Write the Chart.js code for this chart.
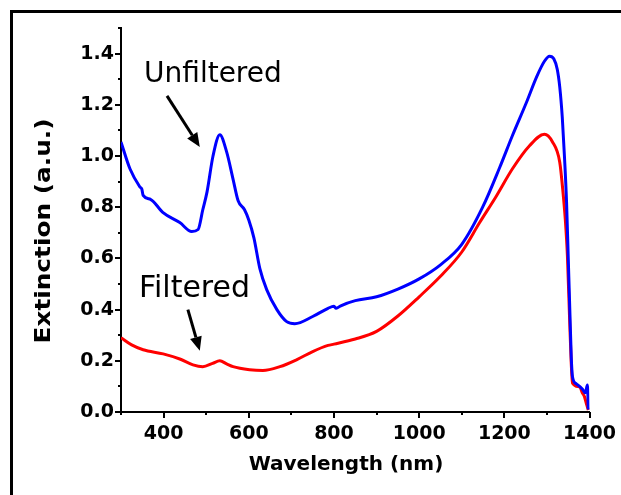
<!DOCTYPE html>
<html>
<head>
<meta charset="utf-8">
<script src="https://cdn.jsdelivr.net/npm/chart.js@4.4.1/dist/chart.umd.min.js"></script>
<style>
  html, body { margin: 0; padding: 0; background: #fff; overflow: hidden; }
  #marco { position: absolute; left: 10px; top: 10px; width: 700px; height: 600px; border: 3px solid #000; }
  #grafica { position: absolute; left: 0; top: 0; }
</style>
</head>
<body>
<div id="marco"></div>
<canvas id="grafica" width="621" height="495"></canvas>
<script>
// datos
const lambdaSinFiltrar = [300, 321, 344, 349, 352, 370, 398, 438, 466, 481, 492, 502, 516, 532, 548, 563, 575, 590, 600, 612, 626, 642, 666, 689, 708, 750, 786, 800, 805, 816, 850, 900, 950, 1000, 1050, 1100, 1149, 1189, 1219, 1252, 1276, 1294, 1306, 1316, 1324, 1330, 1336, 1341, 1346, 1350, 1354, 1357, 1360, 1369, 1383, 1390, 1395, 1397];
const extSinFiltrar = [1.055, 0.95, 0.88, 0.87, 0.846, 0.83, 0.78, 0.74, 0.705, 0.713, 0.79, 0.86, 1.0, 1.083, 1.016, 0.91, 0.825, 0.79, 0.75, 0.68, 0.56, 0.478, 0.40, 0.353, 0.345, 0.373, 0.405, 0.413, 0.405, 0.415, 0.435, 0.45, 0.48, 0.52, 0.575, 0.655, 0.80, 0.955, 1.08, 1.21, 1.31, 1.37, 1.39, 1.38, 1.34, 1.27, 1.15, 1.0, 0.82, 0.6, 0.38, 0.216, 0.137, 0.11, 0.09, 0.075, 0.105, 0.01];

const lambdaFiltrado = [300, 325, 352, 399, 438, 469, 492, 515, 532, 548, 563, 602, 633, 673, 712, 750, 786, 800, 850, 900, 950, 1000, 1050, 1100, 1142, 1181, 1219, 1259, 1294, 1313, 1330, 1337, 1343, 1348, 1353, 1357, 1360, 1377, 1383, 1388, 1393, 1397];
const extFiltrado = [0.29, 0.262, 0.243, 0.227, 0.207, 0.184, 0.177, 0.19, 0.2, 0.188, 0.177, 0.165, 0.162, 0.177, 0.204, 0.236, 0.26, 0.265, 0.285, 0.315, 0.375, 0.45, 0.53, 0.625, 0.74, 0.843, 0.95, 1.04, 1.085, 1.055, 0.976, 0.87, 0.753, 0.61, 0.37, 0.19, 0.113, 0.098, 0.075, 0.06, 0.03, 0.008];

const ticksX = [400, 600, 800, 1000, 1200, 1400];
const ticksY = [0.0, 0.2, 0.4, 0.6, 0.8, 1.0, 1.2, 1.4];

const tituloX = "Wavelength (nm)";
const tituloY = "Extinction (a.u.)";

// anotaciones (en unidades de datos)
const notas = [
  { texto: "Unfiltered", x: 354, y: 1.29, desde: [408, 1.235], hasta: [485, 1.035], tam: 28 },
  { texto: "Filtered", x: 342, y: 0.451, desde: [457, 0.40], hasta: [485, 0.239], tam: 30 }
];

const esMayorY = v => ticksY.some(t => Math.abs(t - v) < 1e-6);
const esMayorX = v => ticksX.includes(Math.round(v));

// ticks mayores/menores, titulos y flechas
const extras = {
  id: "extras",
  afterDraw(chart) {
    const { ctx, chartArea, scales } = chart;
    const sx = scales.x, sy = scales.y;
    ctx.save();
    ctx.strokeStyle = "#000";
    ctx.lineWidth = 2;
    sy.ticks.forEach(t => {
      const py = Math.round(sy.getPixelForValue(t.value));
      const largo = esMayorY(t.value) ? 6 : 3;
      ctx.beginPath();
      ctx.moveTo(chartArea.left, py);
      ctx.lineTo(chartArea.left - largo, py);
      ctx.stroke();
    });
    sx.ticks.forEach(t => {
      const px = Math.round(sx.getPixelForValue(t.value));
      const largo = esMayorX(t.value) ? 6 : 3;
      ctx.beginPath();
      ctx.moveTo(px, chartArea.bottom);
      ctx.lineTo(px, chartArea.bottom + largo);
      ctx.stroke();
    });

    // titulos de ejes
    ctx.fillStyle = "#000";
    ctx.font = "bold 20px 'DejaVu Sans'";
    ctx.textAlign = "center";
    ctx.textBaseline = "middle";
    ctx.fillText(tituloX, 346, 465);
    ctx.save();
    ctx.font = "bold 21px 'DejaVu Sans'";
    ctx.translate(45, 231);
    ctx.rotate(-Math.PI / 2);
    ctx.scale(1.18, 1);
    ctx.fillText(tituloY, 0, 0);
    ctx.restore();

    // anotaciones con flecha
    notas.forEach(n => {
      ctx.font = n.tam + "px 'DejaVu Sans'";
      ctx.textAlign = "left";
      ctx.textBaseline = "alphabetic";
      ctx.fillText(n.texto, sx.getPixelForValue(n.x), sy.getPixelForValue(n.y));
      const x0 = sx.getPixelForValue(n.desde[0]), y0 = sy.getPixelForValue(n.desde[1]);
      const x1 = sx.getPixelForValue(n.hasta[0]), y1 = sy.getPixelForValue(n.hasta[1]);
      const ang = Math.atan2(y1 - y0, x1 - x0);
      const punta = 14, ancho = 6;
      const bx = x1 - punta * Math.cos(ang), by = y1 - punta * Math.sin(ang);
      ctx.lineWidth = 3;
      ctx.beginPath();
      ctx.moveTo(x0, y0);
      ctx.lineTo(bx, by);
      ctx.stroke();
      ctx.beginPath();
      ctx.moveTo(x1, y1);
      ctx.lineTo(bx + ancho * Math.sin(ang), by - ancho * Math.cos(ang));
      ctx.lineTo(bx - ancho * Math.sin(ang), by + ancho * Math.cos(ang));
      ctx.closePath();
      ctx.fill();
    });
    ctx.restore();
  }
};

const fuenteTicks = { family: "'DejaVu Sans'", size: 19, weight: "bold" };

new Chart(document.getElementById("grafica").getContext("2d"), {
  type: "line",
  data: {
    datasets: [
      {
        label: "Unfiltered",
        data: lambdaSinFiltrar.map((l, i) => ({ x: l, y: extSinFiltrar[i] })),
        borderColor: "#0000ff",
        borderWidth: 3,
        pointRadius: 0,
        cubicInterpolationMode: "monotone"
      },
      {
        label: "Filtered",
        data: lambdaFiltrado.map((l, i) => ({ x: l, y: extFiltrado[i] })),
        borderColor: "#ff0000",
        borderWidth: 3,
        pointRadius: 0,
        cubicInterpolationMode: "monotone"
      }
    ]
  },
  options: {
    responsive: false,
    animation: false,
    devicePixelRatio: 1,
    layout: { padding: { top: 28, right: 31, bottom: 0, left: 0 } },
    plugins: { legend: { display: false }, tooltip: { enabled: false } },
    scales: {
      x: {
        type: "linear",
        min: 300,
        max: 1400,
        grid: { display: false, drawTicks: true, tickLength: 6 },
        border: { display: true, color: "#000", width: 2 },
        ticks: {
          stepSize: 100,
          autoSkip: false,
          maxRotation: 0,
          padding: 5,
          color: "#000",
          font: fuenteTicks,
          callback: v => (esMayorX(v) ? String(v) : "")
        },
        afterFit: s => { s.height = 83; }
      },
      y: {
        min: 0,
        max: 1.5,
        grid: { display: false, drawTicks: true, tickLength: 6 },
        border: { display: true, color: "#000", width: 2 },
        ticks: {
          stepSize: 0.1,
          autoSkip: false,
          padding: 1,
          color: "#000",
          font: fuenteTicks,
          callback: v => (esMayorY(v) ? v.toFixed(1) : "")
        },
        afterFit: s => { s.width = 121; }
      }
    }
  },
  plugins: [extras]
});
</script>
</body>
</html>
